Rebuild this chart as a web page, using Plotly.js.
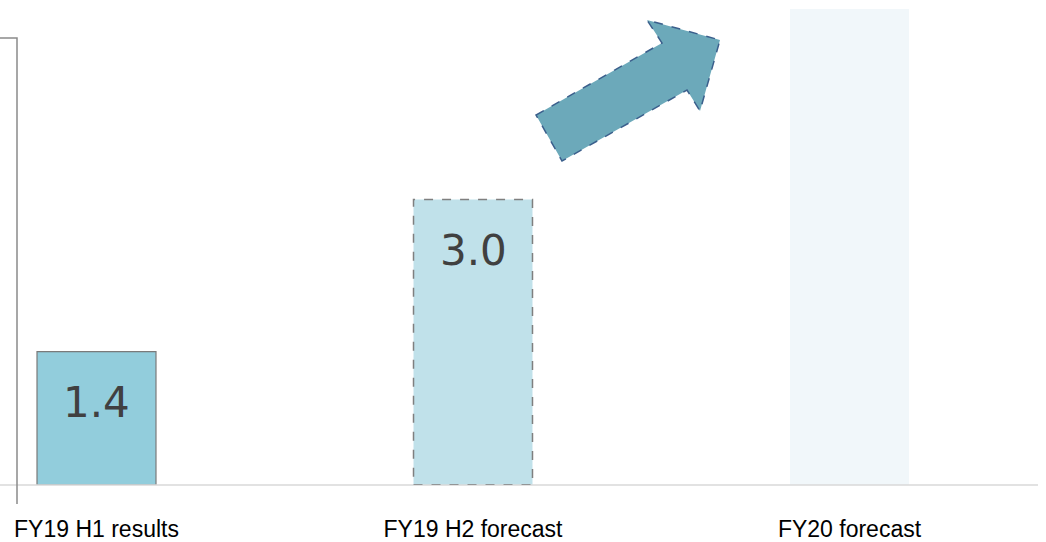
<!DOCTYPE html>
<html>
<head>
<meta charset="utf-8">
<script src="https://cdn.plot.ly/plotly-3.0.1.min.js"></script>
<style>html,body{margin:0;padding:0;background:#fff;}#chart{width:1046px;height:542px;}</style>
</head>
<body>
<div id="chart"></div>
<script>
// ---- data ----
const categories = ['FY19 H1 results', 'FY19 H2 forecast', 'FY20 forecast'];
const values = [1.4, 3.0, 5.0];
const valueLabels = ['1.4', '3.0', ''];
const barColors = ['#92cddc', '#c0e1ea', '#f1f7fa'];

// ---- layout helpers ----
const W = 1046, H = 542, MB = 57;
const PH = H - MB;
const px = x => x / W;
const py = y => 1 - y / PH;
const barWidth = 0.316;

const trace = {
  type: 'bar',
  x: [0, 1, 2],
  y: values,
  width: barWidth,
  marker: {
    color: barColors,
    line: { color: ['#7a7a7a', 'rgba(0,0,0,0)', 'rgba(0,0,0,0)'], width: 1.2 }
  },
  hoverinfo: 'skip'
};

const shapes = [
  // baseline
  { type: 'line', xref: 'paper', yref: 'paper', x0: 0, x1: px(1038), y0: py(485), y1: py(485),
    line: { color: '#d9d9d9', width: 1.5 }, layer: 'above' },
  // left bracket
  { type: 'path', xref: 'paper', yref: 'paper',
    path: `M 0,${py(38)} L ${px(17)},${py(38)} L ${px(17)},${py(504)}`,
    line: { color: '#8a8a8a', width: 1.5 } },
  // dashed outline of forecast bar (from data)
  { type: 'rect', xref: 'x', yref: 'y', x0: 1 - barWidth / 2, x1: 1 + barWidth / 2, y0: 0, y1: values[1],
    line: { color: '#7f7f7f', width: 1.5, dash: 'dash' }, fillcolor: 'rgba(0,0,0,0)' },
  // growth arrow
  { type: 'path', xref: 'paper', yref: 'paper',
    path: `M ${px(536)},${py(115)} L ${px(662)},${py(43)} L ${px(647)},${py(20)} L ${px(720)},${py(40)} ` +
          `L ${px(700)},${py(111)} L ${px(687)},${py(90)} L ${px(562)},${py(161)} Z`,
    fillcolor: '#6ca9ba', line: { color: '#3b5f8c', width: 1.5, dash: 'dash' } }
];

const annotations = valueLabels.map((t, i) => ({
  x: i, y: values[i], xref: 'x', yref: 'y', text: t, showarrow: false,
  yanchor: 'middle', yshift: -51,
  font: { family: 'DejaVu Sans, Verdana, sans-serif', size: 42, color: '#404040' }
})).filter(a => a.text !== '');

const layout = {
  width: W, height: H,
  margin: { l: 0, r: 0, t: 0, b: MB, pad: 0 },
  paper_bgcolor: '#ffffff', plot_bgcolor: '#ffffff',
  showlegend: false,
  xaxis: {
    range: [-0.2563, 2.5219],
    tickvals: [0, 1, 2], ticktext: categories,
    showgrid: false, zeroline: false, showline: false, ticks: '',
    ticklabelstandoff: 28, automargin: false,
    tickfont: { family: 'Liberation Sans, Arial, sans-serif', size: 23, color: '#000000' },
    fixedrange: true
  },
  yaxis: {
    range: [0, 485 / 95.2],
    showgrid: false, zeroline: false, showline: false, showticklabels: false, ticks: '',
    fixedrange: true
  },
  shapes: shapes,
  annotations: annotations
};

Plotly.newPlot('chart', [trace], layout, { displayModeBar: false, staticPlot: true });
</script>
</body>
</html>
